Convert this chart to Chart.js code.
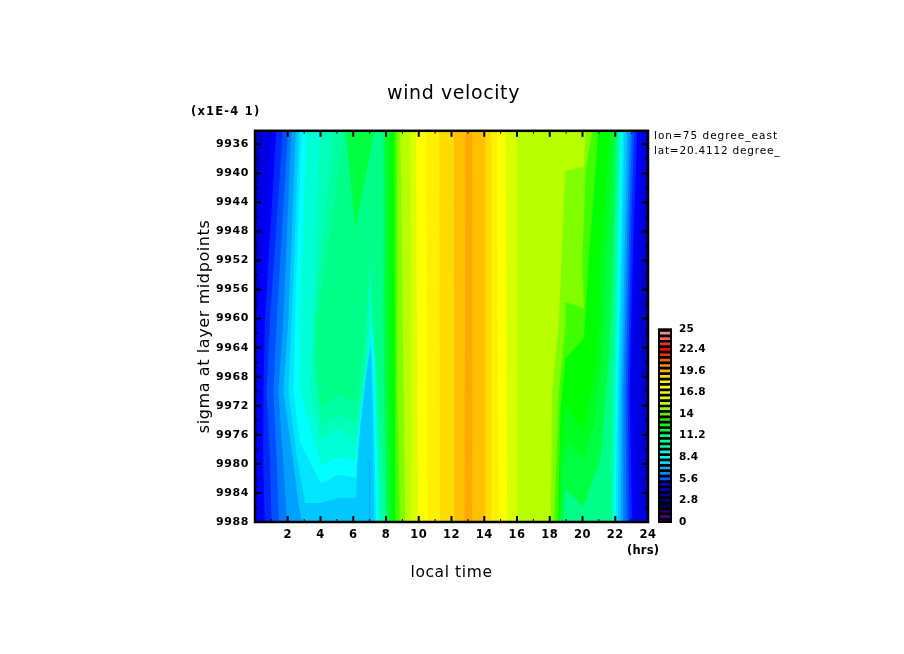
<!DOCTYPE html>
<html><head><meta charset="utf-8">
<style>html,body{margin:0;padding:0;background:#fff;width:904px;height:654px;overflow:hidden}
canvas{position:absolute}</style>
<script src="https://cdn.jsdelivr.net/npm/chart.js@4/dist/chart.umd.min.js"></script>
</head><body>
<div style="position:absolute;left:0;top:0;width:904px;height:654px"><canvas id="main"></canvas></div>
<div style="position:absolute;left:640px;top:315px;width:75px;height:225px"><canvas id="bar"></canvas></div>
<script>
const titleText = 'wind velocity';
const xTitle = 'local time';
const yTitle = 'sigma at layer midpoints';
const scaleNote = '(x1E-4 1)';
const unitNote = '(hrs)';
const noteLines = ['lon=75 degree_east', 'lat=20.4112 degree_'];
const hourTicks = [1,2,3,4,5,6,7,8,9,10,11,12,13,14,15,16,17,18,19,20,21,22,23,24];
const sigmaTicks = [9936,9938,9940,9942,9944,9946,9948,9950,9952,9954,9956,9958,9960,9962,9964,9966,9968,9970,9972,9974,9976,9978,9980,9982,9984,9986,9988];
const barTicks = [0,2.8,5.6,8.4,11.2,14,16.8,19.6,22.4,25];
const barLevels = [0,0.7,1.4,2.1,2.8,3.5,4.2,4.9,5.6,6.3,7,7.7,8.4,9.1,9.8,10.5,11.2,11.9,12.6,13.3,14,14.7,15.4,16.1,16.8,17.5,18.2,18.9,19.6,20.3,21,21.7,22.4,23.1,23.8,24.5];
const barColours = ['#7a00a8','#48007a','#28005c','#000050','#000078','#000098','#0000c0','#0000e8','#0060ff','#0088ff','#00b0ff','#00d8ff','#00ffff','#00ffd8','#00ffb0','#00ff90','#00ff70','#00ff40','#00ff00','#30e000','#60f000','#90ff00','#b8ff00','#d0ff00','#f0ff00','#ffff00','#fff000','#ffd800','#ffb000','#ff9000','#ff6000','#ff3000','#ff0000','#e83030','#f06060','#f09090'];
const plotBase = '#0000c8';
const bandColours = ['#0000e4','#0000ff','#0028ff','#0050ff','#0078ff','#00a0ff','#00c8ff','#00e6ff','#00ffff','#00ffd4','#00ffb8','#00ffa0','#00ff88','#00ff40','#00ff20','#00ff00','#40ff00','#80ff00','#b8ff00','#d8ff00','#ffff00','#fff000','#ffdc00','#ffc000','#ffa800'];
// contour vertices: [hour, sigma], left edge then right edge of each band
const left01 = [[.5,9933],[.1,9945],[-.2,9955],[-.2,9989]];
const right01 = [[23.96,9933],[23.72,9947],[23.55,9960],[23.65,9970],[23.65,9985],[24.2,9989]];
const left02 = [[1.02,9933],[.6,9948],[.1,9960],[-.1,9966],[-.2,9989]];
const right02 = [[23.65,9933],[23.39,9947],[23.14,9960],[23.04,9970],[23.31,9989]];
const left03 = [[1.33,9933],[.61,9960],[.51,9970],[.5,9980],[.61,9989]];
const right03 = [[23.35,9933],[23.14,9947],[22.98,9960],[22.88,9970],[23.04,9989]];
const left04 = [[1.73,9933],[.92,9960],[.71,9970],[.92,9980],[1.02,9989]];
const right04 = [[23.19,9933],[22.98,9947],[22.86,9960],[22.76,9970],[22.84,9989]];
const left05 = [[2.04,9933],[1.33,9960],[1.12,9970],[1.33,9980],[1.47,9989]];
const right05 = [[23.04,9933],[22.86,9947],[22.74,9960],[22.63,9970],[22.69,9989]];
const left06 = [[2.24,9933],[1.73,9960],[1.43,9970],[1.73,9980],[1.98,9989]];
const right06 = [[22.9,9933],[22.74,9947],[22.61,9960],[22.49,9970],[22.53,9989]];
const left07 = [[2.51,9933],[2.04,9960],[1.73,9970],[2.35,9980],[2.65,9985.4],[2.96,9989]];
const right07 = [[22.74,9933],[22.61,9947],[22.49,9960],[22.37,9970],[22.33,9989]];
const left08 = [[2.71,9933],[2.24,9960],[2.04,9970],[2.55,9979],[3.06,9985.4],[4.04,9985.4],[5.04,9984.7],[6.18,9984.7],[6.26,9978.3],[6.73,9968.7],[7.07,9963.7],[7.2,9974.7],[7.28,9989]];
const right08 = [[22.57,9933],[22.45,9947],[22.33,9960],[22.23,9970],[22.16,9989]];
const left09 = [[2.85,9933],[2.45,9960],[2.35,9970],[2.75,9977],[4.04,9982.7],[5.04,9981.5],[6.18,9981.9],[6.42,9974.7],[6.83,9966.4],[7.07,9962.3],[7.24,9970],[7.4,9989]];
const right09 = [[22.45,9933],[22.35,9947],[22.23,9960],[22.12,9970],[22.02,9989]];
const left10 = [[3.16,9933],[2.75,9960],[2.75,9970],[4.04,9980.2],[5.04,9979.1],[6.18,9979.5],[6.53,9971],[6.99,9963.7],[7.07,9960.9],[7.28,9965.5],[7.54,9989]];
const right10 = [[22.39,9933],[22.27,9947],[22.16,9960],[22.06,9970],[21.92,9989]];
const left11 = [[3.98,9933],[3.57,9960],[3.36,9970],[4.04,9976.7],[5.04,9975.1],[6.18,9976.7],[6.63,9970],[6.99,9962.3],[7.05,9957.7],[7.34,9965.5],[7.65,9989]];
const right11 = [[22.33,9933],[22.19,9947],[22.08,9960],[21.98,9970],[21.86,9989]];
const left12 = [[4.89,9933],[3.6,9960],[3.67,9967.8],[4.04,9974.7],[5.04,9973.2],[6.18,9974.4],[6.73,9966.4],[7.05,9952.2],[7.4,9960.9],[7.4,9970.1],[7.75,9989]];
const right12 = [[22.27,9933],[22.12,9947],[22.02,9960],[21.92,9970],[21.78,9989]];
const left13 = [[5.5,9933],[4.6,9948],[3.77,9960],[3.67,9965.5],[4.04,9972.4],[5.04,9970.4],[6.18,9971.5],[6.73,9962.3],[6.95,9954],[7.05,9951.5],[7.2,9960.9],[7.54,9970],[8,9989]];
const right13 = [[22.19,9933],[22.02,9947.2],[21.92,9960.4],[21.82,9970],[21.68,9989]];
const left14 = [[5.5,9933],[6.12,9947.8],[7.4,9933],[7.85,9933],[7.85,9960],[7.9,9970],[8.05,9989]];
const right14 = [[22.06,9933],[21.92,9947.2],[21.72,9960.4],[21.6,9965.5],[21.1,9979.2],[20.05,9985.9],[18.96,9983.4],[18.82,9989]];
const left15 = [[8.05,9933],[8.1,9970],[8.25,9989]];
const right15 = [[21.92,9933],[21.72,9942.6],[21.41,9951.7],[21.31,9960.4],[21.21,9965.5],[20.7,9974.7],[20.05,9979.2],[19.07,9977],[18.76,9981.5],[18.62,9989]];
const left16 = [[8.26,9933],[8.3,9970],[8.36,9989]];
const right16 = [[21.68,9933],[21.41,9942.6],[21.1,9951.7],[21,9960.4],[20.9,9965.5],[20.05,9975.6],[18.96,9971.9],[18.66,9979.2],[18.56,9989]];
const left17 = [[8.5,9933],[8.55,9970],[8.57,9989]];
const right17 = [[21,9933],[20.7,9942.6],[20.39,9951.7],[20.09,9962.7],[18.96,9965.5],[18.66,9972.4],[18.5,9989]];
const left18 = [[8.67,9933],[8.67,9970],[8.87,9989]];
const right18 = [[20.7,9933],[20.19,9939.4],[19.98,9953.1],[20.09,9958.6],[18.96,9957.7],[18.96,9960.9],[18.56,9970],[18.25,9989]];
const left19 = [[8.87,9933],[9.17,9989]];
const right19 = [[20.19,9933],[20.09,9939.1],[18.96,9939.6],[18.76,9949.4],[18.56,9960.4],[18.15,9970],[18.05,9989]];
const left20 = [[9.48,9933],[9.54,9989]];
const right20 = [[16,9933],[16,9989]];
const left21 = [[9.83,9933],[9.95,9989]];
const right21 = [[15.3,9933],[15.4,9989]];
const left22 = [[10.44,9933],[10.54,9989]];
const right22 = [[14.78,9933],[14.88,9989]];
const left23 = [[11.25,9933],[11.3,9989]];
const right23 = [[14.42,9933],[14.42,9989]];
const left24 = [[12.13,9933],[12.17,9989]];
const right24 = [[14.07,9933],[14.07,9989]];
const left25 = [[12.85,9933],[12.79,9989]];
const right25 = [[13.26,9933],[13.3,9989]];
const dipLine = [[6.96,9979.5],[6.96,9989],[7.03,9989],[7.03,9979.5]];
const dipColour = '#00b0ff';
const lefts = [left01,left02,left03,left04,left05,left06,left07,left08,left09,left10,left11,left12,left13,left14,left15,left16,left17,left18,left19,left20,left21,left22,left23,left24,left25];
const rights = [right01,right02,right03,right04,right05,right06,right07,right08,right09,right10,right11,right12,right13,right14,right15,right16,right17,right18,right19,right20,right21,right22,right23,right24,right25];

const ink = '#000';
const pts = a => a.map(p => ({x:p[0], y:p[1]}));
const bandDataset = (colour, data, order) => ({data, backgroundColor:colour, borderWidth:0, pointRadius:0, showLine:true, fill:'shape', tension:0, order});
const datasets = [bandDataset(plotBase, pts([[-1,9933],[-1,9989],[25,9989],[25,9933]]), 100)];
lefts.forEach((l,i) => {
  const outline = [[-1,9933], ...l, ...rights[i].slice().reverse(), [25,9933]];
  datasets.push(bandDataset(bandColours[i], pts(outline), 99 - i));
});
datasets.push(bandDataset(dipColour, pts(dipLine), 0));

const frameAndNotes = {
  id:'frameAndNotes',
  afterLayout(c){ c.titleBlock.left += 33; c.titleBlock.right += 33; },
  beforeDraw(c){ c.ctx.letterSpacing = '0.6px'; },
  afterDraw(c){
    const {ctx, chartArea:a, scales:{x,y}} = c;
    ctx.save();
    ctx.strokeStyle = ink;
    const seg = (w,x0,y0,x1,y1)=>{ctx.lineWidth=w;ctx.beginPath();ctx.moveTo(x0,y0);ctx.lineTo(x1,y1);ctx.stroke();};
    x.ticks.forEach(t=>{ const p=x.getPixelForValue(t.value); const big=t.value%2===0; const l=big?6:3; const w=big?2:1;
      seg(w,p,a.bottom,p,a.bottom-l); seg(w,p,a.top,p,a.top+l); });
    y.ticks.forEach(t=>{ const p=y.getPixelForValue(t.value); const big=t.value%4===0; const l=big?6:3; const w=big?2:1;
      seg(w,a.left,p,a.left+l,p); seg(w,a.right,p,a.right-l,p); });
    ctx.lineWidth=2.5; ctx.strokeRect(a.left,a.top,a.right-a.left,a.bottom-a.top);
    ctx.fillStyle=ink; ctx.textBaseline='middle'; ctx.textAlign='left';
    ctx.font='bold 11.5px "DejaVu Sans"'; ctx.letterSpacing='1.2px';
    ctx.fillText(scaleNote, a.left-64, a.top-19);
    ctx.letterSpacing='0.2px';
    ctx.fillText(unitNote, a.right-21, a.bottom+29);
    ctx.font='10.5px "DejaVu Sans"'; ctx.letterSpacing='1px';
    ctx.fillText(noteLines[0], a.right+6, a.top+5);
    ctx.letterSpacing='0.8px';
    ctx.fillText(noteLines[1], a.right+6, a.top+20);
    ctx.restore();
  }
};

new Chart(document.getElementById('main'),{
  type:'scatter',
  data:{datasets},
  plugins:[frameAndNotes],
  options:{
    responsive:true, maintainAspectRatio:false, animation:false,
    layout:{padding:{left:193,right:256,top:0,bottom:72}},
    plugins:{legend:{display:false},tooltip:{enabled:false},
      title:{display:true,text:titleText,color:ink,font:{family:'"DejaVu Sans"',size:19,weight:'normal'},padding:{top:83,bottom:25}}},
    scales:{
      x:{type:'linear',min:0,max:24,grid:{display:false,drawTicks:false},border:{display:false},
        afterBuildTicks(s){s.ticks=hourTicks.map(v=>({value:v}));},
        afterFit(s){s.height=60;},
        ticks:{autoSkip:false,maxRotation:0,color:ink,padding:6,font:{family:'"DejaVu Sans"',size:11.5,weight:'bold'},callback:v=>v%2===0?String(v):''},
        title:{display:true,text:xTitle,color:ink,padding:{top:0,bottom:0},font:{family:'"DejaVu Sans"',size:15.5,weight:'normal'}}},
      y:{type:'linear',reverse:true,min:9934.15,max:9988,grid:{display:false,drawTicks:false},border:{display:false},
        afterBuildTicks(s){s.ticks=sigmaTicks.map(v=>({value:v}));},
        afterFit(s){s.width=62;},
        ticks:{autoSkip:false,color:ink,padding:6,font:{family:'"DejaVu Sans"',size:11,weight:'bold'},callback:v=>v%4===0?String(v):''},
        title:{display:true,text:yTitle,color:ink,padding:{top:2,bottom:0},font:{family:'"DejaVu Sans"',size:16,weight:'normal'}}}
    }
  }
});

const barFrame = {
  id:'barFrame',
  beforeDraw(c){ c.ctx.letterSpacing = '0.2px'; },
  beforeDatasetsDraw(c){const {ctx,chartArea:a}=c; ctx.save(); ctx.fillStyle=ink; ctx.fillRect(a.left,a.top,a.right-a.left,a.bottom-a.top); ctx.restore();},
  afterDraw(c){const {ctx,chartArea:a}=c; ctx.save(); ctx.strokeStyle=ink; ctx.lineWidth=2; ctx.strokeRect(a.left,a.top,a.right-a.left,a.bottom-a.top); ctx.restore();}
};
new Chart(document.getElementById('bar'),{
  type:'bar',
  data:{datasets:[{data:barLevels.map(v=>({x:1,y:v})),backgroundColor:barColours,barThickness:2,borderWidth:0}]},
  plugins:[barFrame],
  options:{
    indexAxis:'y',responsive:true,maintainAspectRatio:false,animation:false,
    layout:{padding:{left:19,right:0,top:12,bottom:18}},
    plugins:{legend:{display:false},tooltip:{enabled:false},title:{display:false}},
    scales:{
      x:{type:'linear',display:false,min:0,max:1},
      y:{type:'linear',position:'right',min:0,max:25,offset:false,grid:{display:false,drawTicks:false},border:{display:false},
        afterBuildTicks(s){s.ticks=barTicks.map(v=>({value:v}));},
        afterFit(s){s.width=44;},
        ticks:{autoSkip:false,color:ink,padding:8,font:{family:'"DejaVu Sans"',size:10.5,weight:'bold'},callback:v=>String(v)}}
    }
  }
});
</script>
</body></html>
